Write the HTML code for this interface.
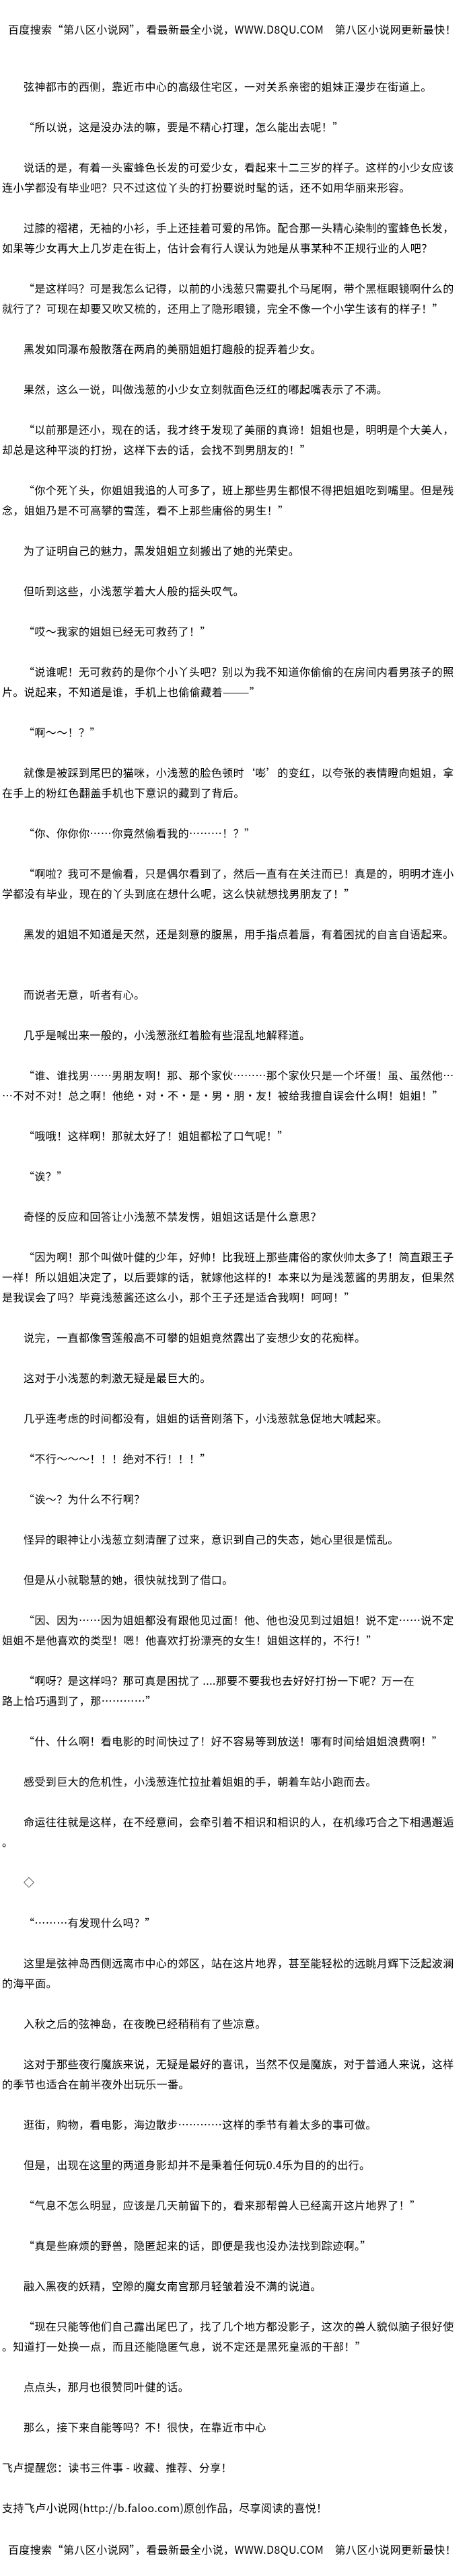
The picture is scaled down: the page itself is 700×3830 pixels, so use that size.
<!DOCTYPE html>
<html><head><meta charset="utf-8">
<style>
html,body{margin:0;padding:0;background:#fff;}
body{width:700px;height:3830px;position:relative;overflow:hidden;color:#000;
font-family:"Noto Sans CJK SC","Liberation Sans",sans-serif;font-size:16px;letter-spacing:0.4px;}
.hd{position:absolute;left:12px;line-height:30px;white-space:nowrap;}
#main{position:absolute;left:0;top:113px;width:700px;}
p{margin:0 0 30px 0;padding-left:3px;line-height:30px;text-indent:32px;white-space:nowrap;}
p.n{text-indent:0;}
.gap{height:30px;}
</style></head><body>
<div class="hd" style="top:28px">百度搜索“第八区小说网”，看最新最全小说，WWW.D8QU.COM　第八区小说网更新最快！</div>
<div id="main">
<p>弦神都市的西侧，靠近市中心的高级住宅区，一对关系亲密的姐妹正漫步在街道上。</p>
<p>“所以说，这是没办法的嘛，要是不精心打理，怎么能出去呢！”</p>
<p>说话的是，有着一头蜜蜂色长发的可爱少女，看起来十二三岁的样子。这样的小少女应该<br>连小学都没有毕业吧？只不过这位丫头的打扮要说时髦的话，还不如用华丽来形容。</p>
<p>过膝的褶裙，无袖的小衫，手上还挂着可爱的吊饰。配合那一头精心染制的蜜蜂色长发，<br>如果等少女再大上几岁走在街上，估计会有行人误认为她是从事某种不正规行业的人吧？</p>
<p>“是这样吗？可是我怎么记得，以前的小浅葱只需要扎个马尾啊，带个黑框眼镜啊什么的<br>就行了？可现在却要又吹又梳的，还用上了隐形眼镜，完全不像一个小学生该有的样子！”</p>
<p>黑发如同瀑布般散落在两肩的美丽姐姐打趣般的捉弄着少女。</p>
<p>果然，这么一说，叫做浅葱的小少女立刻就面色泛红的嘟起嘴表示了不满。</p>
<p>“以前那是还小，现在的话，我才终于发现了美丽的真谛！姐姐也是，明明是个大美人，<br>却总是这种平淡的打扮，这样下去的话，会找不到男朋友的！”</p>
<p>“你个死丫头，你姐姐我追的人可多了，班上那些男生都恨不得把姐姐吃到嘴里。但是残<br>念，姐姐乃是不可高攀的雪莲，看不上那些庸俗的男生！”</p>
<p>为了证明自己的魅力，黑发姐姐立刻搬出了她的光荣史。</p>
<p>但听到这些，小浅葱学着大人般的摇头叹气。</p>
<p>“哎～我家的姐姐已经无可救药了！”</p>
<p>“说谁呢！无可救药的是你个小丫头吧？别以为我不知道你偷偷的在房间内看男孩子的照<br>片。说起来，不知道是谁，手机上也偷偷藏着———”</p>
<p>“啊～～！？”</p>
<p>就像是被踩到尾巴的猫咪，小浅葱的脸色顿时‘嘭’的变红，以夸张的表情瞪向姐姐，拿<br>在手上的粉红色翻盖手机也下意识的藏到了背后。</p>
<p>“你、你你你……你竟然偷看我的………！？”</p>
<p>“啊啦？我可不是偷看，只是偶尔看到了，然后一直有在关注而已！真是的，明明才连小<br>学都没有毕业，现在的丫头到底在想什么呢，这么快就想找男朋友了！”</p>
<p>黑发的姐姐不知道是天然，还是刻意的腹黑，用手指点着唇，有着困扰的自言自语起来。</p>
<div class="gap"></div>
<p>而说者无意，听者有心。</p>
<p>几乎是喊出来一般的，小浅葱涨红着脸有些混乱地解释道。</p>
<p>“谁、谁找男……男朋友啊！那、那个家伙………那个家伙只是一个坏蛋！虽、虽然他…<br>…不对不对！总之啊！他绝·对·不·是·男·朋·友！被给我擅自误会什么啊！姐姐！”</p>
<p>“哦哦！这样啊！那就太好了！姐姐都松了口气呢！”</p>
<p>“诶？”</p>
<p>奇怪的反应和回答让小浅葱不禁发愣，姐姐这话是什么意思？</p>
<p>“因为啊！那个叫做叶健的少年，好帅！比我班上那些庸俗的家伙帅太多了！简直跟王子<br>一样！所以姐姐决定了，以后要嫁的话，就嫁他这样的！本来以为是浅葱酱的男朋友，但果然<br>是我误会了吗？毕竟浅葱酱还这么小，那个王子还是适合我啊！呵呵！”</p>
<p>说完，一直都像雪莲般高不可攀的姐姐竟然露出了妄想少女的花痴样。</p>
<p>这对于小浅葱的刺激无疑是最巨大的。</p>
<p>几乎连考虑的时间都没有，姐姐的话音刚落下，小浅葱就急促地大喊起来。</p>
<p>“不行～～～！！！绝对不行！！！”</p>
<p>“诶～？为什么不行啊？</p>
<p>怪异的眼神让小浅葱立刻清醒了过来，意识到自己的失态，她心里很是慌乱。</p>
<p>但是从小就聪慧的她，很快就找到了借口。</p>
<p>“因、因为……因为姐姐都没有跟他见过面！他、他也没见到过姐姐！说不定……说不定<br>姐姐不是他喜欢的类型！嗯！他喜欢打扮漂亮的女生！姐姐这样的，不行！”</p>
<p>“啊呀？是这样吗？那可真是困扰了 ....那要不要我也去好好打扮一下呢？万一在<br>路上恰巧遇到了，那…………”</p>
<p>“什、什么啊！看电影的时间快过了！好不容易等到放送！哪有时间给姐姐浪费啊！”</p>
<p>感受到巨大的危机性，小浅葱连忙拉扯着姐姐的手，朝着车站小跑而去。</p>
<p>命运往往就是这样，在不经意间，会牵引着不相识和相识的人，在机缘巧合之下相遇邂逅<br>。</p>
<p>◇</p>
<p>“………有发现什么吗？”</p>
<p>这里是弦神岛西侧远离市中心的郊区，站在这片地界，甚至能轻松的远眺月辉下泛起波澜<br>的海平面。</p>
<p>入秋之后的弦神岛，在夜晚已经稍稍有了些凉意。</p>
<p>这对于那些夜行魔族来说，无疑是最好的喜讯，当然不仅是魔族，对于普通人来说，这样<br>的季节也适合在前半夜外出玩乐一番。</p>
<p>逛街，购物，看电影，海边散步…………这样的季节有着太多的事可做。</p>
<p>但是，出现在这里的两道身影却并不是秉着任何玩0.4乐为目的的出行。</p>
<p>“气息不怎么明显，应该是几天前留下的，看来那帮兽人已经离开这片地界了！”</p>
<p>“真是些麻烦的野兽，隐匿起来的话，即便是我也没办法找到踪迹啊。”</p>
<p>融入黑夜的妖精，空隙的魔女南宫那月轻皱着没不满的说道。</p>
<p>“现在只能等他们自己露出尾巴了，找了几个地方都没影子，这次的兽人貌似脑子很好使<br>。知道打一处换一点，而且还能隐匿气息，说不定还是黑死皇派的干部！”</p>
<p>点点头，那月也很赞同叶健的话。</p>
<p>那么，接下来自能等吗？不！很快，在靠近市中心</p>
<p class="n">飞卢提醒您：读书三件事 - 收藏、推荐、分享！</p>
<p class="n">支持飞卢小说网(http://b.faloo.com)原创作品，尽享阅读的喜悦！</p>
</div>
<div class="hd" style="top:3775px">百度搜索“第八区小说网”，看最新最全小说，WWW.D8QU.COM　第八区小说网更新最快！</div>
</body></html>
